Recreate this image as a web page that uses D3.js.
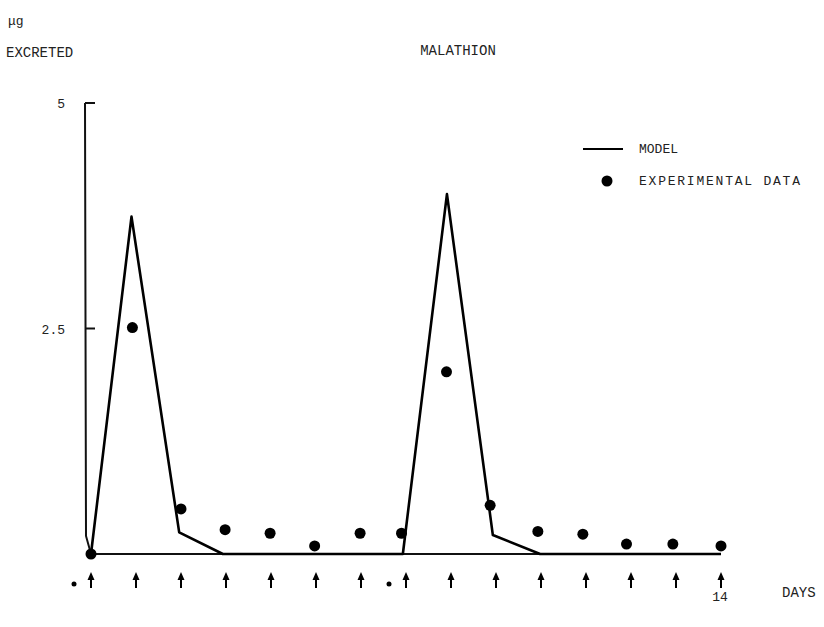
<!DOCTYPE html>
<html><head><meta charset="utf-8">
<script src="https://cdn.jsdelivr.net/npm/d3@7"></script>
<style>
body{margin:0;background:#fff}
text{font-family:"Liberation Mono","DejaVu Sans Mono",monospace;fill:#222}
</style></head><body>
<svg id="c" width="824" height="627"></svg>
<script>
// Model curve (days, amount excreted)
const modelDays   = [0, 0.9, 1.96, 2.93, 6.93, 7.91, 8.93, 9.98, 14];
const modelValues = [0, 3.74, 0.24, 0, 0, 3.99, 0.21, 0, 0];
// Experimental data
const expDays   = [0, 0.92, 2, 2.98, 3.98, 4.97, 5.98, 6.9, 7.9, 8.87, 9.93, 10.93, 11.9, 12.93, 14];
const expValues = [0, 2.51, 0.5, 0.27, 0.23, 0.09, 0.23, 0.23, 2.02, 0.54, 0.25, 0.22, 0.11, 0.11, 0.09];
const dayTicks = d3.range(0, 15);
const doseDays = [0, 7];
const yTicks = [5, 2.5];
const yTickLabels = ["5", "2.5"];

const svg = d3.select("#c");
const x = d3.scaleLinear().domain([0, 14]).range([91, 721]);
const y = d3.scaleLinear().domain([0, 5]).range([554, 103]);

// y axis (slightly bent at the bottom like the original)
const ax = x(0) - 6;
svg.append("path")
  .attr("d", `M${ax},${y(5)} L${ax+1},${y(0.2)} L${x(0)},${y(0)}`)
  .attr("fill","none").attr("stroke","#111").attr("stroke-width",2);
svg.selectAll(".yt").data(yTicks).join("line")
  .attr("x1", ax).attr("x2", ax+10)
  .attr("y1", d=>y(d)).attr("y2", d=>y(d))
  .attr("stroke","#111").attr("stroke-width",2);
svg.selectAll(".yl").data(yTicks).join("text")
  .attr("x", ax-20).attr("y", d=>y(d)+5)
  .attr("text-anchor","end").attr("font-size",13)
  .text((d,i)=>yTickLabels[i]);

// x baseline
svg.append("line").attr("x1", x(0)).attr("x2", x(14))
  .attr("y1", y(0)).attr("y2", y(0))
  .attr("stroke","#111").attr("stroke-width",2);

// model line
const line = d3.line().x((d,i)=>x(modelDays[i])).y(d=>y(d));
svg.append("path").datum(modelValues).attr("d", line)
  .attr("fill","none").attr("stroke","#000").attr("stroke-width",2.6)
  .attr("stroke-linejoin","round");

// data points
svg.selectAll(".pt").data(expValues).join("circle")
  .attr("cx",(d,i)=>x(expDays[i])).attr("cy", d=>y(d)).attr("r",5.5).attr("fill","#000");

// dosing arrows
const ag = svg.selectAll(".ar").data(dayTicks).join("g")
  .attr("transform", d=>`translate(${x(d)},0)`);
ag.append("line").attr("x1",0).attr("x2",0).attr("y1",577).attr("y2",588)
  .attr("stroke","#000").attr("stroke-width",2);
ag.append("path").attr("d","M-3.5,580 L0,572 L3.5,580 Z").attr("fill","#000");
svg.selectAll(".dose").data(doseDays).join("circle")
  .attr("cx", d=>x(d)-17).attr("cy",584).attr("r",2.5).attr("fill","#000");

// labels
svg.append("text").attr("x",720).attr("y",601).attr("text-anchor","middle").attr("font-size",13).text("14");
svg.append("text").attr("x",782).attr("y",597).attr("font-size",14).text("DAYS");
svg.append("text").attr("x",458).attr("y",55).attr("text-anchor","middle").attr("font-size",14).text("MALATHION");
svg.append("text").attr("x",6).attr("y",57).attr("font-size",14).text("EXCRETED");
svg.append("text").attr("x",8).attr("y",25).attr("font-size",13).text("μg");

// legend
svg.append("line").attr("x1",583).attr("x2",623).attr("y1",149).attr("y2",149)
  .attr("stroke","#000").attr("stroke-width",2);
svg.append("text").attr("x",639).attr("y",153).attr("font-size",13).text("MODEL");
svg.append("circle").attr("cx",607).attr("cy",181).attr("r",5.5).attr("fill","#000");
svg.append("text").attr("x",639).attr("y",185).attr("font-size",13).attr("textLength",161).text("EXPERIMENTAL DATA");
</script></body></html>
